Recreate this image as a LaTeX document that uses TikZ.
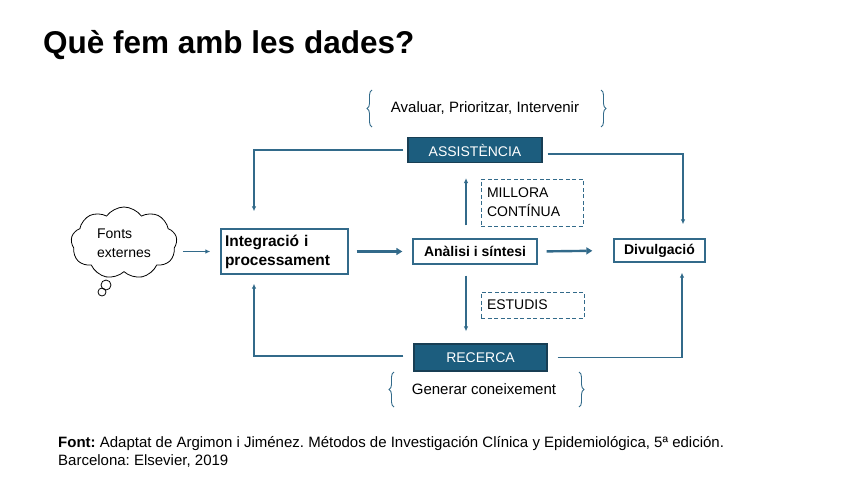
\documentclass[tikz,border=0pt]{standalone}
\usepackage{fontspec}
\setmainfont{Liberation Sans}
\usetikzlibrary{arrows.meta, positioning, shapes.symbols, decorations.pathreplacing, calc}
\definecolor{tealdark}{RGB}{28,93,126}
\definecolor{tealedge}{RGB}{24,62,84}
\definecolor{tealline}{RGB}{50,106,138}
\frenchspacing

\tikzset{
    darkbox/.style={draw=tealedge, line width=1.2pt, fill=tealdark, text=white, font=\fontsize{14}{16}\selectfont, inner sep=2pt},
    whitebox/.style={draw=tealline, line width=1.3pt, fill=white, font=\fontsize{14}{17}\selectfont\bfseries, inner sep=3pt},
    dashbox/.style={draw=tealline, line width=1pt, dashed, dash pattern=on 4pt off 2.5pt, font=\fontsize{14}{19}\selectfont, align=left, inner sep=6pt},
    thinarrow/.style={draw=tealline, line width=1.2pt, -{Latex[length=5pt,width=4.5pt]}},
    thickarrow/.style={draw=tealline, line width=2.4pt, -{Triangle[length=6pt,width=7pt]}},
    bracket/.style={draw=tealline, line width=0.9pt, decorate, decoration={brace, amplitude=5pt}},
    plain/.style={font=\fontsize{15}{18}\selectfont}
}

\begin{document}
\begin{tikzpicture}[x=1pt, y=-1pt]
    % Define dimensions
    \def\pagew{848}
    \def\pageh{477}
    \useasboundingbox (0,0) rectangle (\pagew,\pageh);

    % Title
    \node[anchor=base west, inner sep=0pt, font=\fontsize{31.5}{36}\selectfont\bfseries] (title) at (43,53) {Què fem amb les dades?};

    % Main boxes
    \node[darkbox, minimum width=134pt, minimum height=25pt] (asst) at (475,150) {ASSISTÈNCIA};
    \node[darkbox, minimum width=133pt, minimum height=27pt] (rec) at (480.5,357.5) {RECERCA};
    \node[whitebox, text width=119pt, minimum height=45pt, align=left, inner sep=4pt,
          font=\fontsize{15.5}{19}\selectfont\bfseries] (integ) at (284.5,251.5) {Integració i\\processament};
    \node[whitebox, minimum width=124pt, minimum height=25pt] (anal) at (475,251.5) {Anàlisi i síntesi};
    \node[whitebox, minimum width=91pt, minimum height=23pt] (divul) at (659.5,250.5) {Divulgació};

    % Dashed labels
    \node[dashbox, text width=90pt, minimum height=47pt] (mill) at (532,202.5) {MILLORA\\CONTÍNUA};
    \node[dashbox, text width=91pt, minimum height=26pt] (estud) at (532.5,305) {ESTUDIS};

    % External sources cloud
    \node[cloud, draw, line width=0.8pt, cloud puffs=9, cloud puff arc=110, aspect=1.4,
          minimum width=106pt, minimum height=72pt, align=left, inner sep=0pt,
          font=\fontsize{14}{19}\selectfont] (cloud) at (124,243) {Fonts\\externes};
    \node[circle, draw, fill=white, line width=0.8pt, minimum size=10pt, inner sep=0pt] (bubA) at (106,285) {};
    \node[circle, draw, line width=0.8pt, minimum size=8pt, inner sep=0pt] (bubB) at (102,292) {};

    % Brace texts
    \node[plain] (aval) at (485,108) {Avaluar, Prioritzar, Intervenir};
    \node[plain] (gener) at (484,389) {Generar coneixement};
    \draw[bracket] (372,127) -- (372,90);
    \draw[bracket] (601,90) -- (601,127);
    \draw[bracket] (394,407) -- (394,372);
    \draw[bracket] (579,372) -- (579,407);

    % Main flow
    \draw[thinarrow, shorten <=6pt, shorten >=10pt] (integ.west -| cloud.east) -- (integ.west);
    \draw[thickarrow, shorten <=8pt, shorten >=10pt] (integ.east) -- (anal.west);
    \draw[thickarrow, shorten <=9pt, shorten >=21pt] (anal.east) -- (divul.west);

    % Feedback loops
    \draw[thinarrow, shorten <=4pt, shorten >=17pt] (asst.west) -| ([xshift=-30.5pt]integ.north);
    \draw[thinarrow, shorten <=5pt, shorten >=14pt] ([yshift=-4pt]asst.east) -| ([xshift=23.5pt]divul.north);
    \draw[thinarrow, shorten <=10pt, shorten >=9pt] ([yshift=1.5pt]rec.west) -| ([xshift=-30.5pt]integ.south);
    \draw[thinarrow, shorten <=10pt, shorten >=10pt] (rec.east) -| ([xshift=22.5pt]divul.south);
    \draw[thinarrow, shorten <=13pt, shorten >=15pt] ([xshift=-9pt]anal.north) -- ([xshift=-9pt]asst.south);
    \draw[thinarrow, shorten <=11pt, shorten >=12pt] ([xshift=-9pt]anal.south) -- ([xshift=-14.5pt]rec.north);

    % Source
    \node[anchor=base west, inner sep=0pt, font=\fontsize{15}{18}\selectfont] (src) at (58,447)
        {\textbf{Font:} Adaptat de Argimon i Jiménez. Métodos de Investigación Clínica y Epidemiológica, 5ª edición.};
    \node[anchor=base west, inner sep=0pt, font=\fontsize{15}{18}\selectfont] (srcb) at (58,465) {Barcelona: Elsevier, 2019};
\end{tikzpicture}
\end{document}
